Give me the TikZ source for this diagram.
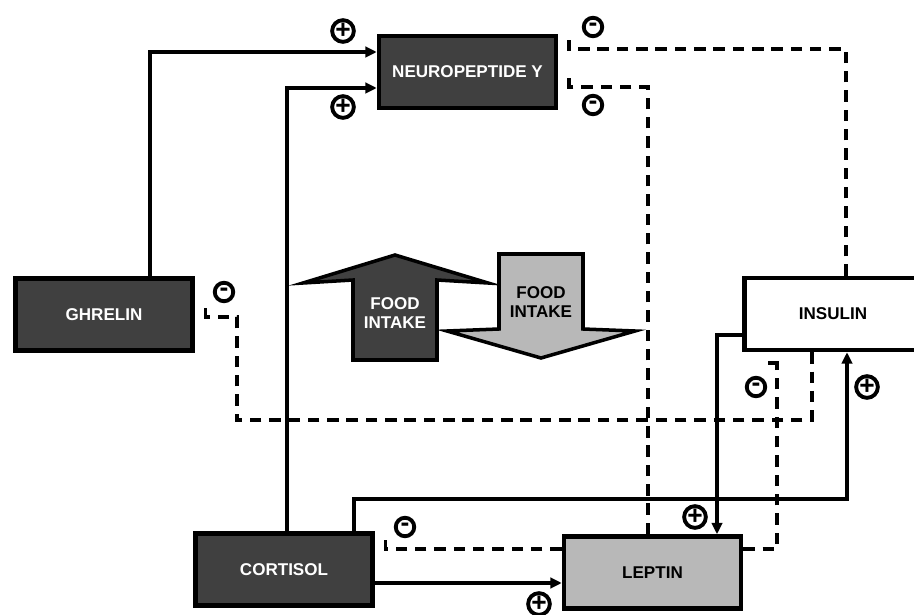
\documentclass[tikz,border=0pt]{standalone}
\usepackage{fontspec}
\setmainfont{Liberation Sans}
\usetikzlibrary{arrows.meta}
\definecolor{hormoneDark}{HTML}{404040}
\definecolor{hormoneLight}{HTML}{B8B8B8}

\begin{document}
\begin{tikzpicture}[x=0.02cm, y=-0.02cm,
    hormone/.style={draw, line width=2.6pt, minimum width=3.54cm, minimum height=1.44cm, inner sep=0pt, font=\fontsize{9.7}{11.3}\selectfont\bfseries, align=center},
    darkbox/.style={hormone, fill=hormoneDark, text=white},
    stimul/.style={line width=2pt, -{Triangle[length=6.5pt,width=6pt]}},
    inhib/.style={line width=2pt, dash pattern=on 6.5pt off 4.5pt, shorten >=0.18cm, -{Bar[width=10pt,harpoon,swap]}},
    sign/.style={circle, draw, line width=2.2pt, minimum size=0.37cm, inner sep=0pt, font=\fontsize{15}{15}\selectfont\bfseries}]
    \useasboundingbox (0,0) rectangle (914,615);
    % hormones
    \node[darkbox] (npy) at (467.5,72) {NEUROPEPTIDE Y};
    \node[darkbox] (ghrelin) at (104,314.5) {GHRELIN};
    \node[hormone, fill=white] (insulin) at (833,314) {INSULIN};
    \node[darkbox] (cortisol) at (284,569.5) {CORTISOL};
    \node[hormone, fill=hormoneLight] (leptin) at (652.5,572.5) {LEPTIN};
    % food intake arrows
    \draw[line width=2pt, fill=hormoneDark] (395,255) -- (488,283) -- (437,280) -- (437,360) -- (353,360) -- (353,280) -- (303,283) -- cycle;
    \node[font=\fontsize{9.7}{11.3}\selectfont\bfseries, text=white, align=center] (up) at (395,313) {FOOD\\INTAKE};
    \draw[line width=2pt, fill=hormoneLight] (499,254) -- (583,254) -- (583,329) -- (635,331) -- (541,358) -- (447,331) -- (499,329) -- cycle;
    \node[font=\fontsize{9.7}{11.3}\selectfont\bfseries, align=center] (down) at (541,302) {FOOD\\INTAKE};
    % connectors
    \draw[stimul] (150,0 |- ghrelin.north) |- (npy.west |- 0,52);
    \draw[stimul] (287,0 |- cortisol.north) |- (npy.west |- 0,88);
    \draw[inhib] (846,0 |- insulin.north) |- (npy.east |- 0,49);
    \draw[inhib] (648,0 |- leptin.north) |- (npy.east |- 0,87);
    \draw[inhib] (812,0 |- insulin.south) |- (237,420) |- (ghrelin.east |- 0,317);
    \draw[stimul] (354,0 |- cortisol.north) |- (847,499) -- (847,0 |- insulin.south);
    \draw[stimul] (insulin.west |- 0,335) -| (717,0 |- leptin.north);
    \draw[inhib, -{Bar[width=10pt,harpoon]}] (leptin.east |- 0,549) -| (777,0 |- insulin.south);
    \draw[inhib] (leptin.west |- 0,549) -- (cortisol.east |- 0,549);
    \draw[stimul] (cortisol.east |- 0,583) -- (leptin.west |- 0,583);
    % signs
    \node[sign] (p1) at (343,31) {+};
    \node[sign] (p2) at (343,107) {+};
    \node[sign] (p3) at (867,387) {+};
    \node[sign] (p4) at (695,517) {+};
    \node[sign] (p5) at (539,604) {+};
    \node[sign] (m1) at (593,27) {-};
    \node[sign] (m2) at (593,105) {-};
    \node[sign] (m3) at (224,292) {-};
    \node[sign] (m4) at (756,387) {-};
    \node[sign] (m5) at (405,527) {-};
\end{tikzpicture}
\end{document}
